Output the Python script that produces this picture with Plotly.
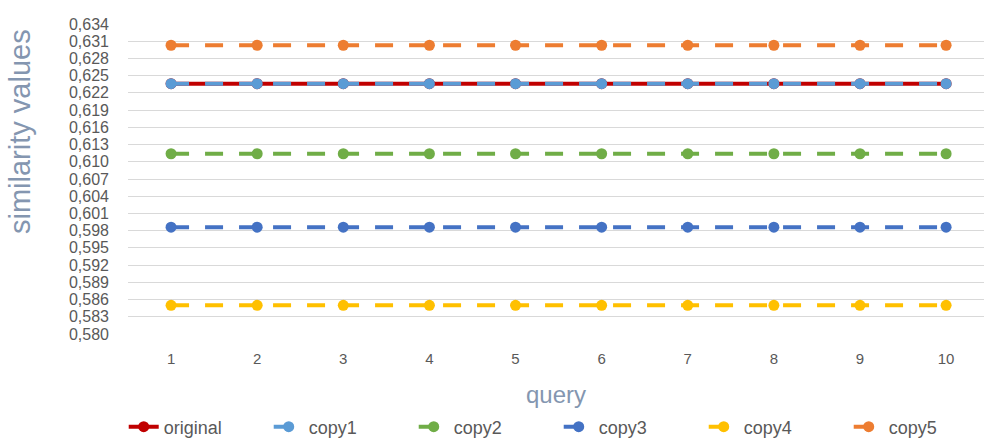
import plotly.graph_objects as go

queries = [1, 2, 3, 4, 5, 6, 7, 8, 9, 10]
series_names = ["original", "copy1", "copy2", "copy3", "copy4", "copy5"]
original = [0.6236] * 10
copy1 = [0.6236] * 10
copy2 = [0.6114] * 10
copy3 = [0.5986] * 10
copy4 = [0.5850] * 10
copy5 = [0.6303] * 10
y_ticks = [round(0.580 + 0.003 * i, 3) for i in range(19)]

colors = ["#C00000", "#5B9BD5", "#70AD47", "#4472C4", "#FFC000", "#ED7D31"]
dashes = ["solid", "18px,16px", "18px,16px", "18px,16px", "18px,16px", "18px,16px"]
values = [original, copy1, copy2, copy3, copy4, copy5]

fig = go.Figure()
for name, vals, c, d in zip(series_names, values, colors, dashes):
    fig.add_trace(go.Scatter(
        x=queries, y=vals, name=name, mode="lines+markers",
        line=dict(color=c, width=4, dash=d),
        marker=dict(color=c, size=11),
    ))

font = "Liberation Sans Narrow, Liberation Sans, sans-serif"
title_font = "Liberation Sans, sans-serif"
fig.update_layout(
    width=984, height=441,
    margin=dict(l=128, r=0, t=24, b=107, autoexpand=False),
    plot_bgcolor="white", paper_bgcolor="white",
    separators=", ",
    font=dict(family=font, color="#595959", size=15),
    showlegend=True,
    legend=dict(orientation="h", x=-0.005, xanchor="left", y=-0.300, yanchor="middle",
                font=dict(size=18, color="#595959", family=title_font),
                entrywidth=100, entrywidthmode="pixels", tracegroupgap=0,
                bgcolor="rgba(0,0,0,0)"),
    xaxis=dict(range=[0.5, 10.44], tickmode="array", tickvals=queries,
               ticktext=[str(q) for q in queries], showgrid=False, zeroline=False,
               showline=False, ticks="", tickfont=dict(size=15), ticklabelstandoff=14,
               title=dict(text="query", font=dict(size=24, color="#8496B0", family=title_font),
                          standoff=20)),
    yaxis=dict(range=[0.580, 0.634], tickmode="array", tickvals=y_ticks,
               tickformat=".3f", showgrid=True, gridcolor="#D9D9D9", gridwidth=1,
               zeroline=False, showline=False, ticks="", ticklabelstandoff=18,
               tickfont=dict(size=16)),
    annotations=[dict(text="similarity values", textangle=-90, showarrow=False,
                      xref="paper", yref="paper", x=-0.126, y=0.652,
                      xanchor="center", yanchor="middle",
                      font=dict(size=29, color="#8496B0", family=title_font))],
)

fig.write_html("out.html", post_script="document.body.style.margin='0';",
               config={"displayModeBar": False})
